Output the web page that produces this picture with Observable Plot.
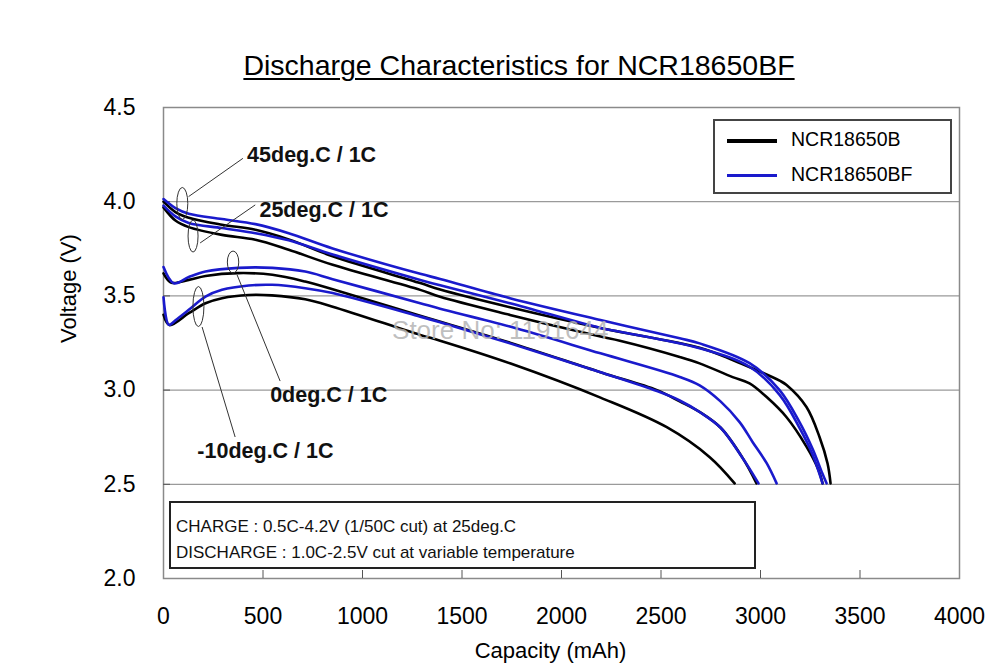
<!DOCTYPE html>
<html lang="en">
<head>
<meta charset="UTF-8">
<title>Discharge Characteristics for NCR18650BF</title>
<style>
  body { margin: 0; background: #fff; font-family: "Liberation Sans", Arial, sans-serif; color: #000; }
  #chart { position: relative; width: 1000px; height: 663px; }
  #title { position: absolute; left: 0; width: 1038px; top: 49px; text-align: center; font-size: 28.5px; text-decoration: underline; text-underline-offset: 3px; text-decoration-thickness: 1.5px; }
  #legend { position: absolute; left: 713px; top: 119px; width: 239px; height: 75px; box-sizing: border-box; border: 2px solid #444; background: #fff; font-size: 19.5px; }
  #legend .row { position: absolute; left: 12px; height: 22px; line-height: 22px; white-space: nowrap; }
  #legend .sw { display: inline-block; width: 50px; height: 0; border-top: 3px solid; vertical-align: middle; margin-right: 14px; }
  #note { position: absolute; left: 169px; top: 501px; width: 587px; height: 68px; box-sizing: border-box; border: 2px solid #222; background: #fff; font-size: 17px; padding: 11px 0 0 5px; line-height: 26px; color: #111; }
  .watermark { font-family: "Liberation Sans", Arial, sans-serif; }
</style>
<script src="https://cdn.jsdelivr.net/npm/d3@7"></script>
<script src="https://cdn.jsdelivr.net/npm/@observablehq/plot@0.6"></script>
</head>
<body>
<div id="chart">
  <div id="title">Discharge Characteristics for NCR18650BF</div>
</div>
<script type="module">
  // axis ticks
  const xTicks = [0, 500, 1000, 1500, 2000, 2500, 3000, 3500, 4000];
  const yTicks = [2.0, 2.5, 3.0, 3.5, 4.0, 4.5];
  const models = ["NCR18650B", "NCR18650BF"];
  const modelColors = ["#000000", "#1a1acc"];
  const legendWidths = [4, 3];

  // [capacity mAh, voltage V]
  const b45 = [[0,4.00],[60,3.945],[127,3.915],[294,3.878],[462,3.851],[629,3.80],[850,3.71],[1290,3.568],[1390,3.534],[1741,3.44],[2196,3.33],[2694,3.225],[2860,3.16],[2980,3.106],[3096,3.05],[3131,3.027],[3231,2.91],[3297,2.75],[3337,2.61],[3352,2.505]];
  const b25 = [[0,3.97],[60,3.90],[127,3.865],[294,3.824],[462,3.798],[629,3.745],[850,3.665],[1290,3.532],[1390,3.495],[1741,3.399],[2196,3.284],[2293,3.262],[2594,3.176],[2694,3.142],[2860,3.069],[2945,3.036],[3031,2.963],[3131,2.856],[3231,2.70],[3290,2.58],[3312,2.505]];
  const b0 = [[0,3.62],[40,3.57],[127,3.585],[211,3.606],[376,3.621],[547,3.612],[712,3.576],[850,3.535],[1290,3.395],[1741,3.252],[2196,3.095],[2480,3.0],[2594,2.94],[2700,2.88],[2800,2.80],[2910,2.64],[2980,2.505]];
  const b10 = [[0,3.40],[30,3.345],[127,3.408],[211,3.461],[294,3.488],[428,3.505],[545,3.503],[712,3.482],[850,3.443],[1290,3.293],[1390,3.262],[1741,3.142],[2196,2.96],[2529,2.803],[2745,2.644],[2870,2.505]];
  const f45 = [[0,4.014],[60,3.966],[127,3.936],[294,3.908],[462,3.881],[629,3.833],[850,3.752],[1290,3.617],[1390,3.59],[1741,3.488],[2196,3.372],[2594,3.275],[2694,3.248],[2945,3.143],[3096,3.0],[3196,2.83],[3261,2.69],[3310,2.56],[3332,2.505]];
  const f25 = [[0,3.979],[60,3.922],[127,3.887],[294,3.86],[462,3.833],[629,3.795],[850,3.72],[1290,3.585],[1390,3.556],[1741,3.461],[2196,3.33],[2293,3.31],[2694,3.222],[2945,3.124],[3096,2.975],[3196,2.80],[3261,2.66],[3295,2.56],[3312,2.505]];
  const f0 = [[0,3.653],[52,3.567],[127,3.60],[211,3.629],[376,3.649],[547,3.649],[712,3.629],[850,3.589],[1290,3.461],[1390,3.432],[1741,3.337],[2196,3.195],[2594,3.07],[2694,3.025],[2799,2.94],[2895,2.83],[2960,2.725],[3031,2.612],[3081,2.505]];
  const f10 = [[0,3.493],[27,3.346],[60,3.37],[127,3.426],[211,3.496],[294,3.532],[428,3.555],[545,3.559],[712,3.541],[850,3.515],[1290,3.39],[1390,3.36],[1741,3.248],[2196,3.095],[2480,2.995],[2594,2.945],[2700,2.88],[2800,2.80],[2910,2.64],[2990,2.505]];

  // annotations (data units)
  const tempLabels = [
    {text: "45deg.C / 1C", mAh: 420, V: 4.246},
    {text: "25deg.C / 1C", mAh: 482, V: 3.956},
    {text: "0deg.C / 1C", mAh: 536, V: 2.974},
    {text: "-10deg.C / 1C", mAh: 170, V: 2.676}
  ];
  const leaders = [
    {x1: 126, y1: 4.027, x2: 399, y2: 4.230},
    {x1: 184, y1: 3.781, x2: 461, y2: 3.983},
    {x1: 370, y1: 3.611, x2: 586, y2: 3.048},
    {x1: 194, y1: 3.335, x2: 360, y2: 2.751}
  ];
  const rings = [
    {mAh: 97, V: 3.988, rx: 5.5, ry: 16},
    {mAh: 151, V: 3.815, rx: 5, ry: 16},
    {mAh: 352, V: 3.677, rx: 5.7, ry: 11},
    {mAh: 178, V: 3.441, rx: 5.5, ry: 20}
  ];
  const watermark = [{text: "Store No: 1191644", mAh: 1692, V: 3.313}];

  const series = [
    {model: models[0], temp: "45", pts: b45},
    {model: models[0], temp: "25", pts: b25},
    {model: models[0], temp: "0", pts: b0},
    {model: models[0], temp: "-10", pts: b10},
    {model: models[1], temp: "45", pts: f45},
    {model: models[1], temp: "25", pts: f25},
    {model: models[1], temp: "0", pts: f0},
    {model: models[1], temp: "-10", pts: f10}
  ];
  const rows = series.flatMap(s => s.pts.map(([mAh, V]) => ({key: s.model + s.temp, model: s.model, mAh, V})));

  const W = 1000, H = 663;
  const mL = 163, mR = 41, mT = 107, mB = 85;

  const plot = Plot.plot({
    width: W,
    height: H,
    marginLeft: mL, marginRight: mR, marginTop: mT, marginBottom: mB,
    style: "font-family: 'Liberation Sans', Arial, sans-serif; background: transparent; overflow: visible;",
    x: {domain: [0, 4000]},
    y: {domain: [2, 4.5]},
    color: {domain: models, range: modelColors},
    marks: [
      Plot.gridY(yTicks, {stroke: "#9a9a9a", strokeOpacity: 1, strokeWidth: 1.2}),
      Plot.frame({stroke: "#8a8a8a", strokeWidth: 1.5}),
      Plot.tickX(xTicks.slice(1, -1), {x: d => d, insetTop: H - mT - mB - 8, stroke: "#555"}),
      Plot.tickY(yTicks.slice(1, -1), {y: d => d, insetRight: W - mL - mR - 7, stroke: "#555"}),
      Plot.axisX(xTicks, {tickSize: 0, tickPadding: 29, fontSize: 23, label: null, tickFormat: d => String(d)}),
      Plot.axisY(yTicks, {tickSize: 0, tickPadding: 28, fontSize: 23, label: null, tickFormat: d3.format(".1f")}),
      Plot.line(rows, {x: "mAh", y: "V", z: "key", stroke: "model", strokeWidth: 2.6, curve: "catmull-rom", sort: null}),
      Plot.link(leaders, {x1: "x1", y1: "y1", x2: "x2", y2: "y2", stroke: "#333", strokeWidth: 1}),
      Plot.text(tempLabels, {x: "mAh", y: "V", text: "text", textAnchor: "start", fontSize: 21.5, fontWeight: "bold", fill: "#111"}),
      Plot.text(watermark, {x: "mAh", y: "V", text: "text", fontSize: 26, className: "watermark", fill: "#b4b4b4", fillOpacity: 0.85}),
      Plot.text(["Capacity (mAh)"], {frameAnchor: "bottom", lineAnchor: "middle", dy: 72, dx: -11, text: d => d, fontSize: 22}),
      Plot.text(["Voltage (V)"], {frameAnchor: "left", dx: -95, rotate: -90, text: d => d, fontSize: 22})
    ]
  });

  // ellipses around the curve starts, placed with the plot's own scales
  const sx = plot.scale("x"), sy = plot.scale("y");
  d3.select(plot).append("g")
    .attr("fill", "none").attr("stroke", "#333").attr("stroke-width", 1)
    .selectAll("ellipse").data(rings).join("ellipse")
    .attr("cx", d => sx.apply(d.mAh))
    .attr("cy", d => sy.apply(d.V))
    .attr("rx", d => d.rx)
    .attr("ry", d => d.ry);

  const chart = document.getElementById("chart");
  chart.insertAdjacentElement("afterbegin", plot);

  // legend box
  const legend = document.createElement("div");
  legend.id = "legend";
  models.forEach((m, i) => {
    const row = document.createElement("div");
    row.className = "row";
    row.style.top = (i === 0 ? 7 : 42) + "px";
    row.innerHTML = `<span class="sw" style="border-color:${modelColors[i]};border-top-width:${legendWidths[i]}px"></span>${m}`;
    legend.appendChild(row);
  });
  chart.appendChild(legend);

  // test conditions box
  const note = document.createElement("div");
  note.id = "note";
  note.innerHTML = "CHARGE : 0.5C-4.2V (1/50C cut) at 25deg.C<br>DISCHARGE : 1.0C-2.5V cut at variable temperature";
  chart.appendChild(note);
</script>
</body>
</html>
